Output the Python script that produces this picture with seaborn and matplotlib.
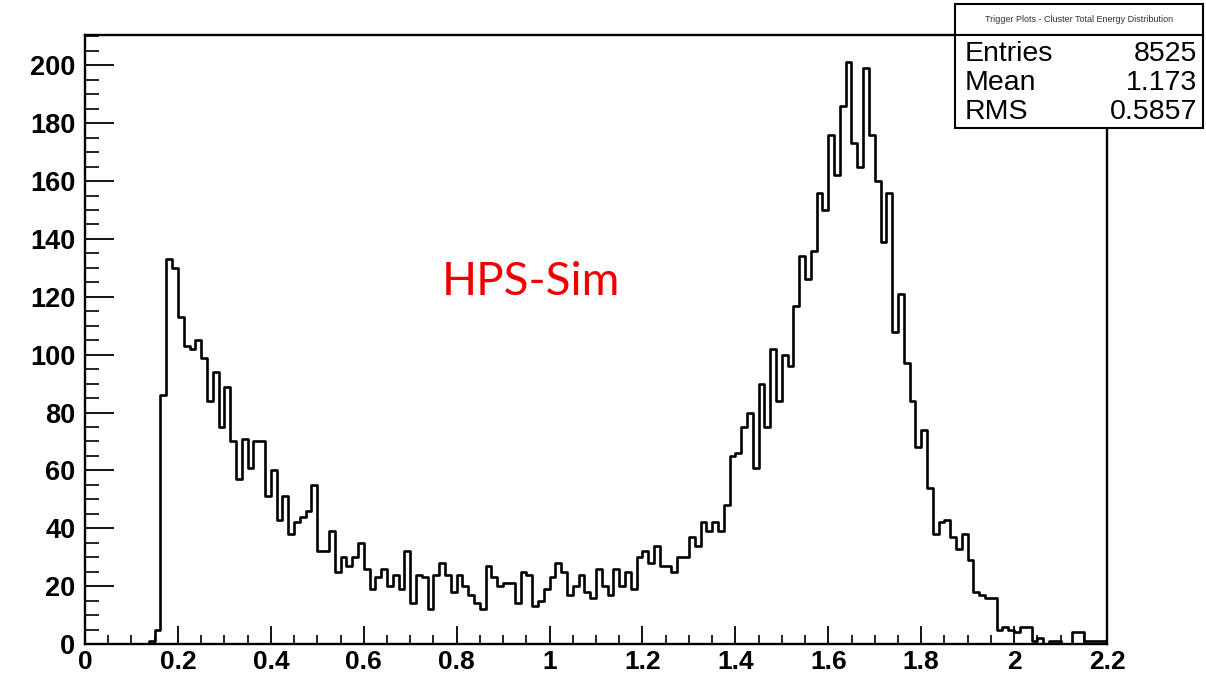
import numpy as np
import pandas as pd
import matplotlib
matplotlib.use("Agg")
import matplotlib.pyplot as plt
import seaborn as sns
from matplotlib.ticker import MultipleLocator
from matplotlib.patches import Rectangle

# ---------------- data ----------------
bin_width = 0.0125
counts = [
    0, 0, 0, 0, 0, 0, 0, 0, 0, 0,          # 0.0000 - 0.1250
    0, 1, 5, 86, 133, 130, 113, 103, 102, 105,
    99, 84, 94, 75, 89, 70, 57, 71, 61, 70,
    70, 51, 60, 43, 51, 38, 42, 44, 46, 55,
    32, 32, 39, 25, 30, 27, 30, 35, 26, 19,
    23, 26, 20, 24, 19, 32, 14, 24, 23, 12,
    24, 28, 24, 18, 24, 20, 17, 14, 12, 27,
    23, 20, 21, 21, 14, 25, 24, 13, 15, 19,
    23, 28, 25, 17, 20, 24, 18, 16, 26, 20,
    17, 26, 20, 25, 19, 30, 32, 28, 34, 27,
    27, 25, 30, 30, 37, 34, 42, 39, 42, 39,
    48, 65, 66, 75, 80, 61, 90, 75, 102, 84,
    100, 96, 117, 134, 126, 136, 156, 150, 176, 162,
    186, 201, 173, 165, 199, 176, 160, 139, 156, 108,
    121, 97, 84, 68, 74, 54, 38, 42, 43, 37,
    33, 38, 29, 18, 17, 16, 16, 5, 6, 5,
    4, 6, 6, 1, 2, 0, 1, 1, 0, 0,
    4, 4, 1, 1, 1, 1,
]
edges = [i * bin_width for i in range(len(counts) + 1)]
centers = [e + bin_width / 2 for e in edges[:-1]]

x_ticks = [0.0, 0.2, 0.4, 0.6, 0.8, 1.0, 1.2, 1.4, 1.6, 1.8, 2.0, 2.2]
x_labels = ["0", "0.2", "0.4", "0.6", "0.8", "1", "1.2", "1.4", "1.6", "1.8", "2", "2.2"]
y_ticks = [0, 20, 40, 60, 80, 100, 120, 140, 160, 180, 200]
y_labels = ["0", "20", "40", "60", "80", "100", "120", "140", "160", "180", "200"]

stats_title = "Trigger Plots - Cluster Total Energy Distribution"
stats_names = ["Entries", "Mean", "RMS"]
stats_values = ["8525", "1.173", "0.5857"]
annotation = "HPS-Sim"

# ---------------- style ----------------
sns.set_style("ticks")
plt.rcParams["font.family"] = ["Liberation Sans", "DejaVu Sans"]
plt.rcParams["text.color"] = "black"
plt.rcParams["xtick.color"] = "black"
plt.rcParams["ytick.color"] = "black"

W, H = 1206, 677
fig = plt.figure(figsize=(W / 100, H / 100), dpi=100)
ax = fig.add_axes([85 / W, 1 - 644 / H, (1107 - 85) / W, (644 - 35) / H])

df = pd.DataFrame({"energy": centers, "count": counts})
sns.histplot(data=df, x="energy", weights="count", bins=edges,
             element="step", fill=False, color="black", linewidth=1.9, ax=ax)

ax.set_xlim(0, 2.2)
ax.set_ylim(0, 210.5)
ax.set_xlabel("")
ax.set_ylabel("")

for s in ax.spines.values():
    s.set_visible(True)
    s.set_linewidth(1.7)
    s.set_color("black")

ax.set_xticks(x_ticks, x_labels)
ax.set_yticks(y_ticks, y_labels)
ax.xaxis.set_minor_locator(MultipleLocator(0.05))
ax.yaxis.set_minor_locator(MultipleLocator(5))
ax.tick_params(axis="x", which="major", direction="in", length=13, width=1.3,
               labelsize=19, pad=4, top=False, colors="black")
ax.tick_params(axis="x", which="minor", direction="in", length=6.5, width=1.2, top=False,
               colors="black")
ax.tick_params(axis="y", which="major", direction="in", length=21, width=1.3,
               labelsize=19.5, pad=7, right=False, colors="black")
ax.tick_params(axis="y", which="minor", direction="in", length=10, width=1.2, right=False,
               colors="black")
for lbl in ax.get_xticklabels() + ax.get_yticklabels():
    lbl.set_fontweight("bold")
    lbl.set_color("black")

# annotation
fig.text(531 / W, 1 - 282 / H, annotation, color="#ee0000", fontsize=33,
         family=["Lato", "DejaVu Sans"], ha="center", va="center")

# stats box
bx0, bx1 = 955, 1203
fig.add_artist(Rectangle((bx0 / W, 1 - 35 / H), (bx1 - bx0) / W, (35 - 4) / H,
                         transform=fig.transFigure, facecolor="white",
                         edgecolor="black", linewidth=1.5, zorder=10))
fig.add_artist(Rectangle((bx0 / W, 1 - 128 / H), (bx1 - bx0) / W, (128 - 35) / H,
                         transform=fig.transFigure, facecolor="white",
                         edgecolor="black", linewidth=1.5, zorder=10))
fig.text((bx0 + bx1) / 2 / W, 1 - 19 / H, stats_title, fontsize=6.5,
         ha="center", va="center", color="#333333", zorder=11)
rows_y = [54, 83, 112]
for name, val, yy in zip(stats_names, stats_values, rows_y):
    fig.text(965 / W, 1 - yy / H, name, fontsize=20.5, ha="left", va="center",
             color="black", zorder=11)
    fig.text(1197 / W, 1 - yy / H, val, fontsize=20.5, ha="right", va="center",
             color="black", zorder=11)

fig.savefig("out.png", dpi=100)
